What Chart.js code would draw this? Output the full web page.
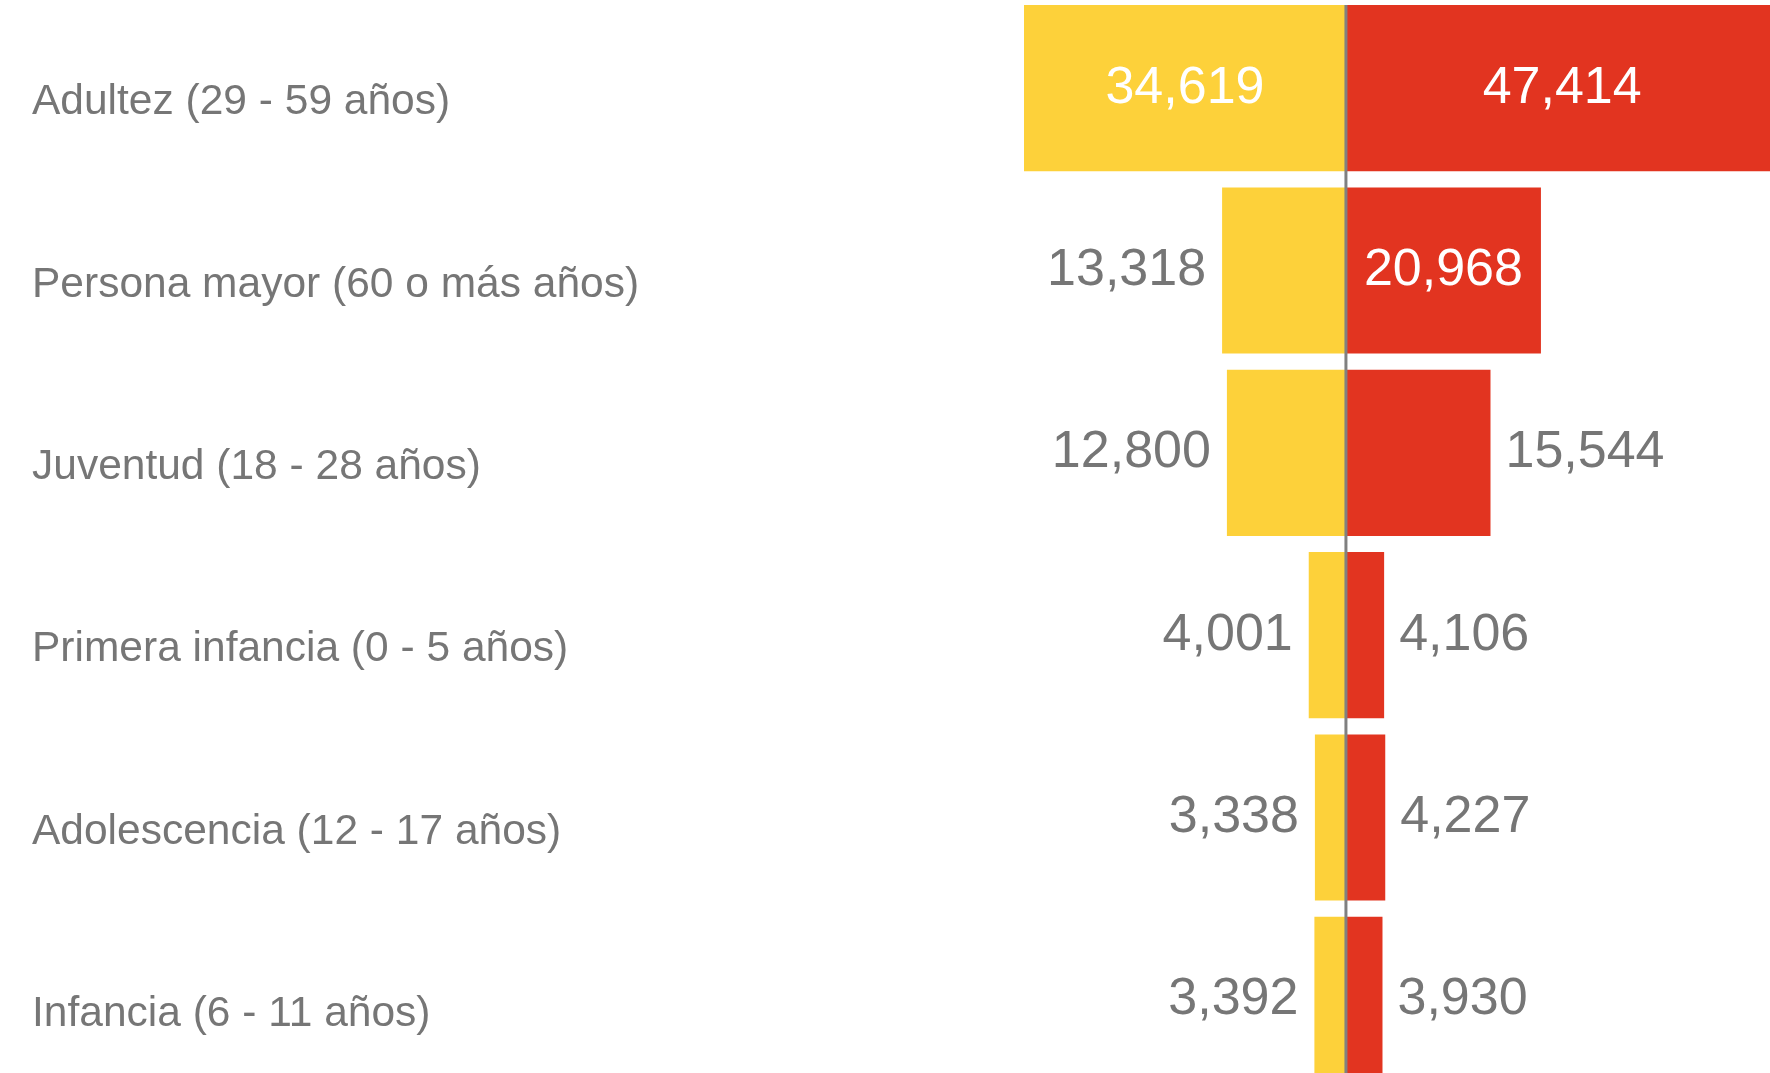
<!DOCTYPE html>
<html>
<head>
<meta charset="utf-8">
<script src="https://cdn.jsdelivr.net/npm/chart.js@4/dist/chart.umd.min.js"></script>
<style>
  html, body { margin: 0; padding: 0; background: #fff; overflow: hidden; }
  #wrap { position: absolute; left: 0; top: -3px; width: 1770px; height: 1094px; }
</style>
</head>
<body>
<div id="wrap"><canvas id="pyramid"></canvas></div>
<script>
// categories (top to bottom)
const categories = [
    'Adultez (29 - 59 años)',
    'Persona mayor (60 o más años)',
    'Juventud (18 - 28 años)',
    'Primera infancia (0 - 5 años)',
    'Adolescencia (12 - 17 años)',
    'Infancia (6 - 11 años)'
];
// left side (yellow) and right side (red)
const leftValues = [34619, 13318, 12800, 4001, 3338, 3392];
const rightValues = [47414, 20968, 15544, 4106, 4227, 3930];

const YELLOW = '#FDD13A';
const RED = '#E23420';
const GRAY = '#767676';
const FONT = "'Liberation Sans', Arial, sans-serif";

// category names on the left, value labels on the bars, zero line
const pyramidText = {
    id: 'pyramidText',
    afterDatasetsDraw(chart) {
        const ctx = chart.ctx;
        const area = chart.chartArea;
        const yScale = chart.scales.y;
        ctx.save();
        ctx.textBaseline = 'alphabetic';

        // category labels
        ctx.font = '42.5px ' + FONT;
        ctx.fillStyle = GRAY;
        ctx.textAlign = 'left';
        categories.forEach((c, i) => {
            ctx.fillText(c, 32, yScale.getPixelForValue(i) + 26);
        });

        ctx.font = '52px ' + FONT;
        chart.data.datasets.forEach((ds, di) => {
            const meta = chart.getDatasetMeta(di);
            meta.data.forEach((bar, i) => {
                const raw = di === 0 ? leftValues[i] : rightValues[i];
                const txt = raw.toLocaleString('en-US');
                const tw = ctx.measureText(txt).width;
                const left = Math.min(bar.x, bar.base);
                const right = Math.max(bar.x, bar.base);
                const visRight = Math.min(right, area.right);
                const y = bar.y + 14.5;
                if (tw + 10 <= visRight - left) {
                    ctx.fillStyle = '#fff';
                    ctx.textAlign = 'center';
                    ctx.fillText(txt, (left + (right + visRight) / 2) / 2, y);
                } else if (di === 0) {
                    ctx.fillStyle = GRAY;
                    ctx.textAlign = 'right';
                    ctx.fillText(txt, left - 16, y);
                } else {
                    ctx.fillStyle = GRAY;
                    ctx.textAlign = 'left';
                    ctx.fillText(txt, right + 15, y);
                }
            });
        });

        // centre line at zero
        const x0 = chart.scales.x.getPixelForValue(0);
        ctx.strokeStyle = '#808080';
        ctx.lineWidth = 3;
        ctx.beginPath();
        ctx.moveTo(x0, area.top + 8);
        ctx.lineTo(x0, area.bottom);
        ctx.stroke();
        ctx.restore();
    }
};

new Chart(document.getElementById('pyramid'), {
    type: 'bar',
    data: {
        labels: categories,
        datasets: [{
            label: 'izquierda',
            data: leftValues.map(v => -v),
            backgroundColor: YELLOW
        }, {
            label: 'derecha',
            data: rightValues,
            backgroundColor: RED
        }]
    },
    options: {
        indexAxis: 'y',
        responsive: true,
        maintainAspectRatio: false,
        animation: false,
        layout: { padding: { left: 1000, right: 0, top: 0, bottom: 0 } },
        datasets: { bar: { categoryPercentage: 1, barPercentage: 0.911 } },
        plugins: {
            legend: { display: false },
            tooltip: { enabled: false }
        },
        scales: {
            x: {
                stacked: true,
                display: false,
                min: -37200,
                max: 45600
            },
            y: {
                stacked: true,
                display: false
            }
        }
    },
    plugins: [pyramidText]
});
</script>
</body>
</html>
